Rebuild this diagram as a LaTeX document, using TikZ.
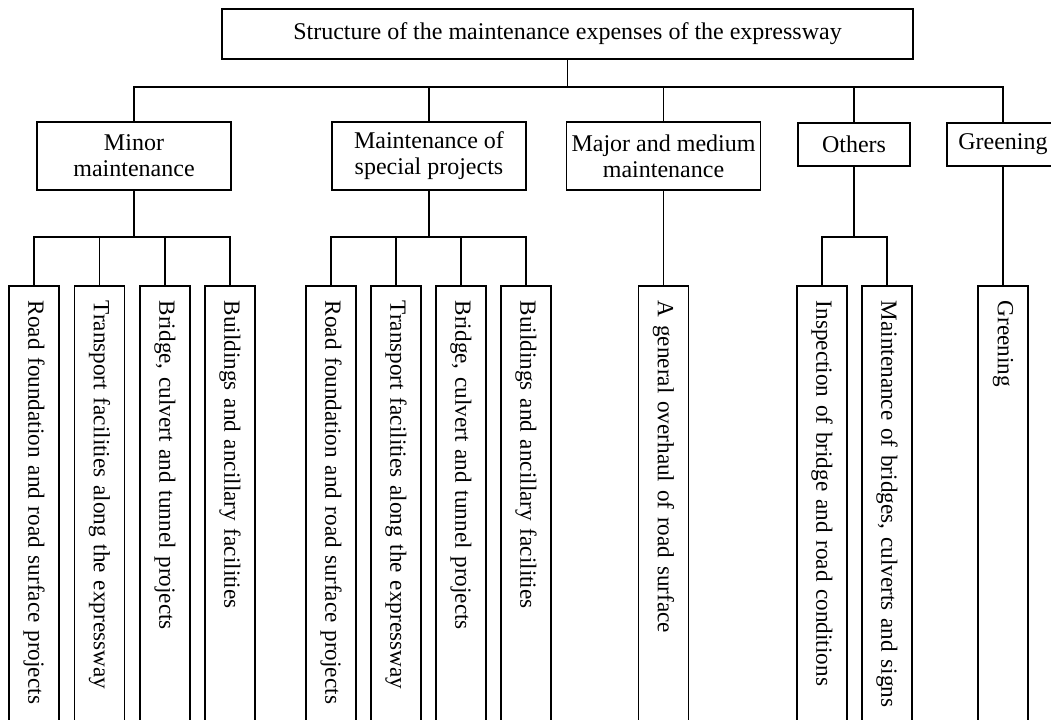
\documentclass[tikz,border=0pt]{standalone}
\usepackage{fontspec}
\setmainfont{Liberation Serif}
\usepackage{tikz}
\usetikzlibrary{positioning,calc}

\begin{document}
\begin{tikzpicture}[
  x=0.5pt, y=-0.5pt,
  every node/.style={font=\fontsize{12}{13}\selectfont},
  box/.style={draw, rectangle, line width=0.75pt, inner sep=0pt, align=center},
  top/.style={box, minimum width=345.5pt, minimum height=25pt},
  branch/.style={box, minimum width=97pt, minimum height=34pt},
  small/.style={box, minimum width=56pt, minimum height=21.5pt},
  leaf/.style={draw, rectangle, line width=0.75pt, rotate=-90, anchor=west,
    minimum height=25pt, inner xsep=7.5pt, inner ysep=0pt,
    text width=225pt, align=left, font=\fontsize{11.6}{13}\selectfont},
  link/.style={line width=0.75pt}
]
\useasboundingbox (0,0) rectangle (1051,719);
\clip (0,0) rectangle (1051,719);
\fill[white] (0,0) rectangle (1051,719);

% top level
\node[top] (root) at (567.5,34) {Structure of the maintenance expenses of the expressway};

% second level
\node[branch] (minor) at (134,156) {Minor\\maintenance};
\node[branch] (special) at (429,156) {Maintenance of\\special projects};
\node[branch] (major) at (663.5,156) {Major and medium\\maintenance};
\node[small] (others) at (854,144.5) {Others};
\node[small] (green) at (1003,144.5) {Greening};

% leaves
\node[leaf] (mi1) at (34,285) {Road foundation and road surface projects};
\node[leaf] (mi2) at (99.5,285) {Transport facilities along the expressway};
\node[leaf] (mi3) at (165,285) {Bridge, culvert and tunnel projects};
\node[leaf] (mi4) at (230,285) {Buildings and ancillary facilities};
\node[leaf] (sp1) at (331,285) {Road foundation and road surface projects};
\node[leaf] (sp2) at (396,285) {Transport facilities along the expressway};
\node[leaf] (sp3) at (461,285) {Bridge, culvert and tunnel projects};
\node[leaf] (sp4) at (526,285) {Buildings and ancillary facilities};
\node[leaf] (ma1) at (663.5,285) {A general overhaul of road surface};
\node[leaf] (ot1) at (822,285) {Inspection of bridge and road conditions};
\node[leaf] (ot2) at (887,285) {Maintenance of bridges, culverts and signs};
\node[leaf] (gr1) at (1003,285) {Greening};

% bars
\coordinate (rootbar) at (567.5,87);
\coordinate (minorbar) at (134,237);
\coordinate (specialbar) at (429,237);
\coordinate (othersbar) at (854,237);

% connectors
\draw[link] (root.south) -- (rootbar);
\draw[link] (minor.north) |- (rootbar);
\draw[link] (green.north) |- (rootbar);
\draw[link] (special.north) -- (special.north |- rootbar);
\draw[link] (major.north) -- (major.north |- rootbar);
\draw[link] (others.north) -- (others.north |- rootbar);

\draw[link] (minor.south) -- (minorbar);
\draw[link] (mi1.west) |- (minorbar) -| (mi4.west);
\draw[link] (mi2.west) -- (mi2.west |- minorbar);
\draw[link] (mi3.west) -- (mi3.west |- minorbar);

\draw[link] (special.south) -- (specialbar);
\draw[link] (sp1.west) |- (specialbar) -| (sp4.west);
\draw[link] (sp2.west) -- (sp2.west |- specialbar);
\draw[link] (sp3.west) -- (sp3.west |- specialbar);

\draw[link] (major.south) -- (ma1.west);

\draw[link] (others.south) -- (othersbar);
\draw[link] (ot1.west) |- (othersbar) -| (ot2.west);

\draw[link] (green.south) -- (gr1.west);
\end{tikzpicture}
\end{document}
